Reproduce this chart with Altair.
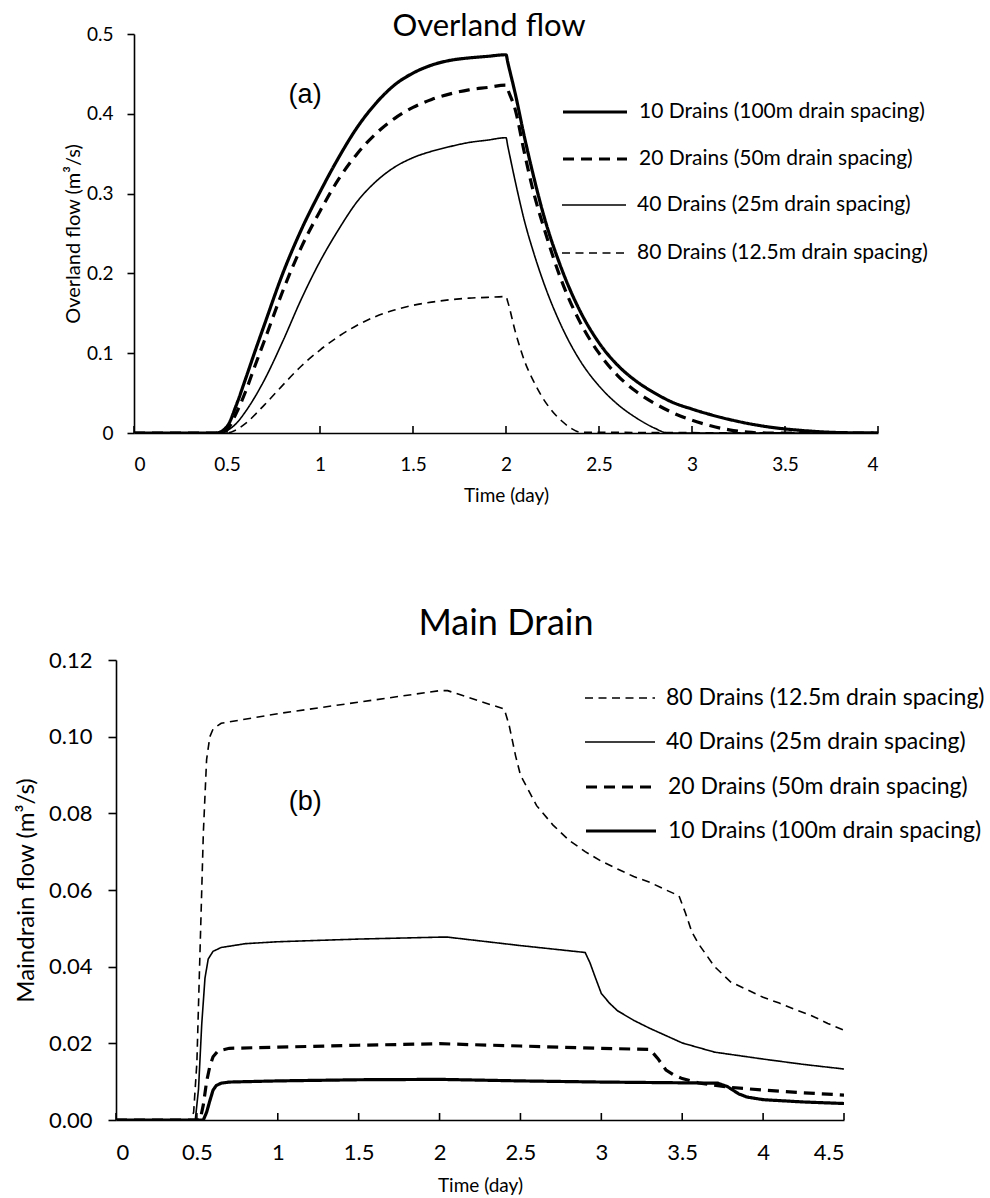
import altair as alt
import pandas as pd

# ---------------- Overland flow (a) ----------------
ov_names = ["10 Drains (100m drain spacing)", "20 Drains (50m drain spacing)",
            "40 Drains (25m drain spacing)", "80 Drains (12.5m drain spacing)"]

ov_t_10 = [0, 0.44, 0.5, 0.55, 0.6, 0.65, 0.7, 0.8, 0.9, 1.0, 1.1, 1.2, 1.3, 1.4, 1.5, 1.6, 1.7, 1.8, 1.9, 2.0,
           2.01, 2.05, 2.1, 2.15, 2.2, 2.3, 2.4, 2.5, 2.6, 2.7, 2.8, 2.9, 3.0, 3.2, 3.4, 3.6, 3.8, 4.0]
ov_q_10 = [0, 0, 0.008, 0.035, 0.068, 0.102, 0.135, 0.2, 0.255, 0.302, 0.345, 0.383, 0.413, 0.436, 0.451, 0.461,
           0.467, 0.47, 0.472, 0.474, 0.464, 0.425, 0.37, 0.32, 0.275, 0.205, 0.152, 0.113, 0.085, 0.065, 0.05,
           0.038, 0.03, 0.017, 0.008, 0.003, 0.0005, 0]

ov_t_20 = [0, 0.46, 0.5, 0.55, 0.6, 0.65, 0.7, 0.8, 0.9, 1.0, 1.1, 1.2, 1.3, 1.4, 1.5, 1.6, 1.7, 1.8, 1.9, 2.0,
           2.01, 2.05, 2.1, 2.15, 2.2, 2.3, 2.4, 2.5, 2.6, 2.7, 2.8, 2.9, 3.0, 3.1, 3.2, 3.3, 3.4, 4.0]
ov_q_20 = [0, 0, 0.004, 0.025, 0.052, 0.084, 0.115, 0.178, 0.233, 0.278, 0.318, 0.35, 0.375, 0.394, 0.408, 0.418,
           0.425, 0.43, 0.433, 0.436, 0.43, 0.405, 0.35, 0.30, 0.26, 0.19, 0.138, 0.1, 0.072, 0.052, 0.037,
           0.025, 0.016, 0.009, 0.004, 0.001, 0, 0]

ov_t_40 = [0, 0.47, 0.5, 0.55, 0.6, 0.7, 0.8, 0.9, 1.0, 1.1, 1.2, 1.3, 1.4, 1.5, 1.6, 1.7, 1.8, 1.9, 2.0,
           2.01, 2.05, 2.1, 2.15, 2.2, 2.3, 2.4, 2.5, 2.6, 2.7, 2.8, 2.87, 4.0]
ov_q_40 = [0, 0, 0.003, 0.012, 0.027, 0.066, 0.115, 0.168, 0.215, 0.255, 0.29, 0.315, 0.333, 0.345, 0.353, 0.359,
           0.364, 0.367, 0.37, 0.359, 0.315, 0.265, 0.225, 0.19, 0.133, 0.09, 0.059, 0.036, 0.019, 0.006, 0, 0]

ov_t_80 = [0, 0.5, 0.55, 0.6, 0.7, 0.8, 0.9, 1.0, 1.1, 1.2, 1.3, 1.4, 1.5, 1.6, 1.7, 1.8, 1.9, 2.0,
           2.01, 2.05, 2.1, 2.15, 2.2, 2.25, 2.3, 2.35, 2.4, 4.0]
ov_q_80 = [0, 0, 0.004, 0.012, 0.035, 0.06, 0.084, 0.104, 0.121, 0.135, 0.146, 0.154, 0.16, 0.164, 0.167, 0.169,
           0.17, 0.171, 0.164, 0.127, 0.09, 0.064, 0.043, 0.027, 0.015, 0.006, 0.001, 0]

ov_xticks = [0, 0.5, 1, 1.5, 2, 2.5, 3, 3.5, 4]
ov_yticks = [0, 0.1, 0.2, 0.3, 0.4, 0.5]

# ---------------- Main drain (b) ----------------
md_names = ["80 Drains (12.5m drain spacing)", "40 Drains (25m drain spacing)",
            "20 Drains (50m drain spacing)", "10 Drains (100m drain spacing)"]

md_t_80 = [0, 0.46, 0.48, 0.5, 0.52, 0.54, 0.56, 0.58, 0.6, 0.65, 1.0, 1.5, 2.0, 2.05, 2.4, 2.43, 2.47, 2.5,
           2.55, 2.6, 2.7, 2.8, 2.9, 3.0, 3.1, 3.2, 3.3, 3.4, 3.48, 3.52, 3.56, 3.6, 3.7, 3.8, 3.9, 4.0, 4.1,
           4.2, 4.3, 4.4, 4.5]
md_q_80 = [0, 0, 0.002, 0.015, 0.045, 0.075, 0.094, 0.1, 0.102, 0.1035, 0.106, 0.109, 0.112, 0.112, 0.1072,
           0.103, 0.095, 0.09, 0.086, 0.082, 0.077, 0.073, 0.07, 0.0675, 0.0655, 0.0635, 0.062, 0.06, 0.0585,
           0.054, 0.049, 0.046, 0.04, 0.036, 0.034, 0.032, 0.0305, 0.0288, 0.0272, 0.0252, 0.0234]

md_t_40 = [0, 0.49, 0.51, 0.53, 0.55, 0.57, 0.6, 0.65, 0.8, 1.0, 1.5, 2.0, 2.05, 2.5, 2.9, 2.93, 2.96, 3.0, 3.05,
           3.1, 3.2, 3.3, 3.5, 3.7, 4.0, 4.25, 4.5]
md_q_40 = [0, 0, 0.008, 0.025, 0.037, 0.042, 0.044, 0.045, 0.046, 0.0465, 0.0472, 0.0477, 0.0477, 0.0455,
           0.0437, 0.041, 0.0375, 0.033, 0.0305, 0.0285, 0.026, 0.0239, 0.0201, 0.0177, 0.0159, 0.0145, 0.0133]

md_t_20 = [0, 0.52, 0.54, 0.56, 0.58, 0.6, 0.63, 0.7, 1.0, 1.5, 2.0, 2.5, 3.0, 3.3, 3.35, 3.4, 3.45, 3.5, 3.6,
           3.8, 4.0, 4.25, 4.5]
md_q_20 = [0, 0, 0.004, 0.01, 0.014, 0.0165, 0.018, 0.0187, 0.019, 0.0195, 0.0199, 0.0193, 0.0187, 0.0184,
           0.016, 0.013, 0.0117, 0.0108, 0.0097, 0.0085, 0.0078, 0.0071, 0.0065]

md_t_10 = [0, 0.54, 0.56, 0.58, 0.6, 0.62, 0.65, 0.7, 1.0, 1.5, 2.0, 2.5, 3.0, 3.5, 3.72, 3.78, 3.85, 3.9, 4.0,
           4.25, 4.5]
md_q_10 = [0, 0, 0.002, 0.005, 0.0078, 0.009, 0.0096, 0.0099, 0.0102, 0.0105, 0.0106, 0.0102, 0.0099, 0.0097,
           0.0096, 0.0087, 0.0068, 0.006, 0.0053, 0.0047, 0.0043]

md_xticks = [0, 0.5, 1, 1.5, 2, 2.5, 3, 3.5, 4, 4.5]
md_yticks = [0, 0.02, 0.04, 0.06, 0.08, 0.10, 0.12]

# styles per series (keyed by drain count)
dash_map = {"10": [1, 0], "20": [11, 7], "40": [1, 0], "80": [8, 5.5]}
width_map = {"10": 3.2, "20": 3.2, "40": 1.6, "80": 1.6}

FONT = "Lato"


def series_layer(name, ts, qs, field, x, y, interp, legend_x, legend_y, sym_size, font):
    df = pd.DataFrame({"t": ts, "q": qs, field: [name] * len(ts)})
    key = name[:2]
    legend = alt.Legend(title=None, orient="none", legendX=legend_x, legendY=legend_y, symbolType="stroke",
                        symbolSize=sym_size, symbolStrokeColor="black", symbolStrokeWidth=width_map[key],
                        labelFontSize=font, labelFont=FONT, labelColor="black",
                        labelOffset=10, padding=0, labelLimit=500)
    return alt.Chart(df).mark_line(color="black", clip=True, strokeWidth=width_map[key],
                                   interpolate=interp).encode(
        x=x, y=y,
        strokeDash=alt.StrokeDash(f"{field}:N", scale=alt.Scale(domain=[name], range=[dash_map[key]]),
                                  legend=legend),
    )


# ---------------- top chart ----------------
W1, H1, SH = 762, 399, 18
xs1 = alt.Scale(domain=[0, 4], range=[SH, W1], nice=False)
ys1 = alt.Scale(domain=[0, 0.5], nice=False)
x1 = alt.X("t:Q", scale=xs1,
           axis=alt.Axis(values=ov_xticks, format="~g", title="Time (day)", ticks=False, labelPadding=22,
                         labelFontSize=19, titleFontSize=19, titlePadding=12, domainWidth=1.6))
y1 = alt.Y("q:Q", scale=ys1,
           axis=alt.Axis(values=ov_yticks, format="~g", title="Overland flow (m³/s)", offset=-SH, tickSize=7,
                         labelPadding=14, labelFontSize=19, titleFontSize=20, titlePadding=3,
                         domainWidth=1.6, tickWidth=1.6))

ov_series = [(ov_t_10, ov_q_10), (ov_t_20, ov_q_20), (ov_t_40, ov_q_40), (ov_t_80, ov_q_80)]
ov_leg_y = [44, 91, 138, 186]
top_layers = [series_layer(n, ts, qs, f"a{i}", x1, y1, "monotone", 445, ly, 4096, 21)
              for i, (n, (ts, qs), ly) in enumerate(zip(ov_names, ov_series, ov_leg_y))]

ticks1 = alt.Chart(pd.DataFrame({"t": ov_xticks})).mark_rule(color="black", strokeWidth=1.6).encode(
    x=alt.X("t:Q", scale=xs1), y=alt.value(H1), y2=alt.value(H1 - 7))
ann1 = alt.Chart(pd.DataFrame({"t": [0.92], "q": [0.424], "s": ["(a)"]})).mark_text(
    font="Liberation Sans", fontSize=27, color="black").encode(
    x=alt.X("t:Q", scale=xs1), y=alt.Y("q:Q", scale=ys1), text="s:N")

top = alt.layer(*top_layers, ticks1, ann1).resolve_scale(strokeDash="independent").resolve_legend(
    strokeDash="independent").properties(
    width=W1, height=H1,
    title=alt.TitleParams("Overland flow", fontSize=31, font=FONT, fontWeight="normal", dx=-8, offset=-18))

# ---------------- bottom chart ----------------
W2, H2 = 728, 460
xs2 = alt.Scale(domain=[0, 4.5], nice=False)
ys2 = alt.Scale(domain=[0, 0.12], nice=False)
x2 = alt.X("t:Q", scale=xs2,
           axis=alt.Axis(values=md_xticks, format="~g", title="Time (day)", ticks=False, labelPadding=22,
                         labelFontSize=22, titleFontSize=19, titlePadding=13, domainWidth=1.6))
y2 = alt.Y("q:Q", scale=ys2,
           axis=alt.Axis(values=md_yticks, format=".2f", title="Maindrain flow (m³/s)", tickSize=8,
                         labelPadding=16, labelFontSize=22, titleFontSize=24, titlePadding=10,
                         domainWidth=1.6, tickWidth=1.6))

md_series = [(md_t_80, md_q_80), (md_t_40, md_q_40), (md_t_20, md_q_20), (md_t_10, md_q_10)]
md_leg_y = [2, 46, 90, 134]
bottom_layers = [series_layer(n, ts, qs, f"b{i}", x2, y2, "linear", 468, ly, 4900, 23)
                 for i, (n, (ts, qs), ly) in enumerate(zip(md_names, md_series, md_leg_y))]

ticks2 = alt.Chart(pd.DataFrame({"t": md_xticks})).mark_rule(color="black", strokeWidth=1.6).encode(
    x=alt.X("t:Q", scale=xs2), y=alt.value(H2), y2=alt.value(H2 - 7))
ann2 = alt.Chart(pd.DataFrame({"t": [1.17], "q": [0.083], "s": ["(b)"]})).mark_text(
    font="Liberation Sans", fontSize=27, color="black").encode(
    x=alt.X("t:Q", scale=xs2), y=alt.Y("q:Q", scale=ys2), text="s:N")

bottom = alt.layer(*bottom_layers, ticks2, ann2).resolve_scale(strokeDash="independent").resolve_legend(
    strokeDash="independent").properties(
    width=W2, height=H2,
    title=alt.TitleParams("Main Drain", fontSize=36, font=FONT, fontWeight="normal", dx=26, offset=6))

chart = alt.vconcat(top, bottom, spacing=101).resolve_scale(
    strokeDash="independent").resolve_legend(strokeDash="independent").properties(
    padding={"left": 14, "top": 11, "right": 5, "bottom": 3}, background="white"
).configure_view(stroke=None).configure_axis(
    grid=False, domainColor="black", tickColor="black", labelColor="black", titleColor="black",
    labelFont=FONT, titleFont=FONT, titleFontWeight="normal"
).configure_title(color="black")

chart.save("out.html", embed_options={"renderer": "svg", "actions": False})
